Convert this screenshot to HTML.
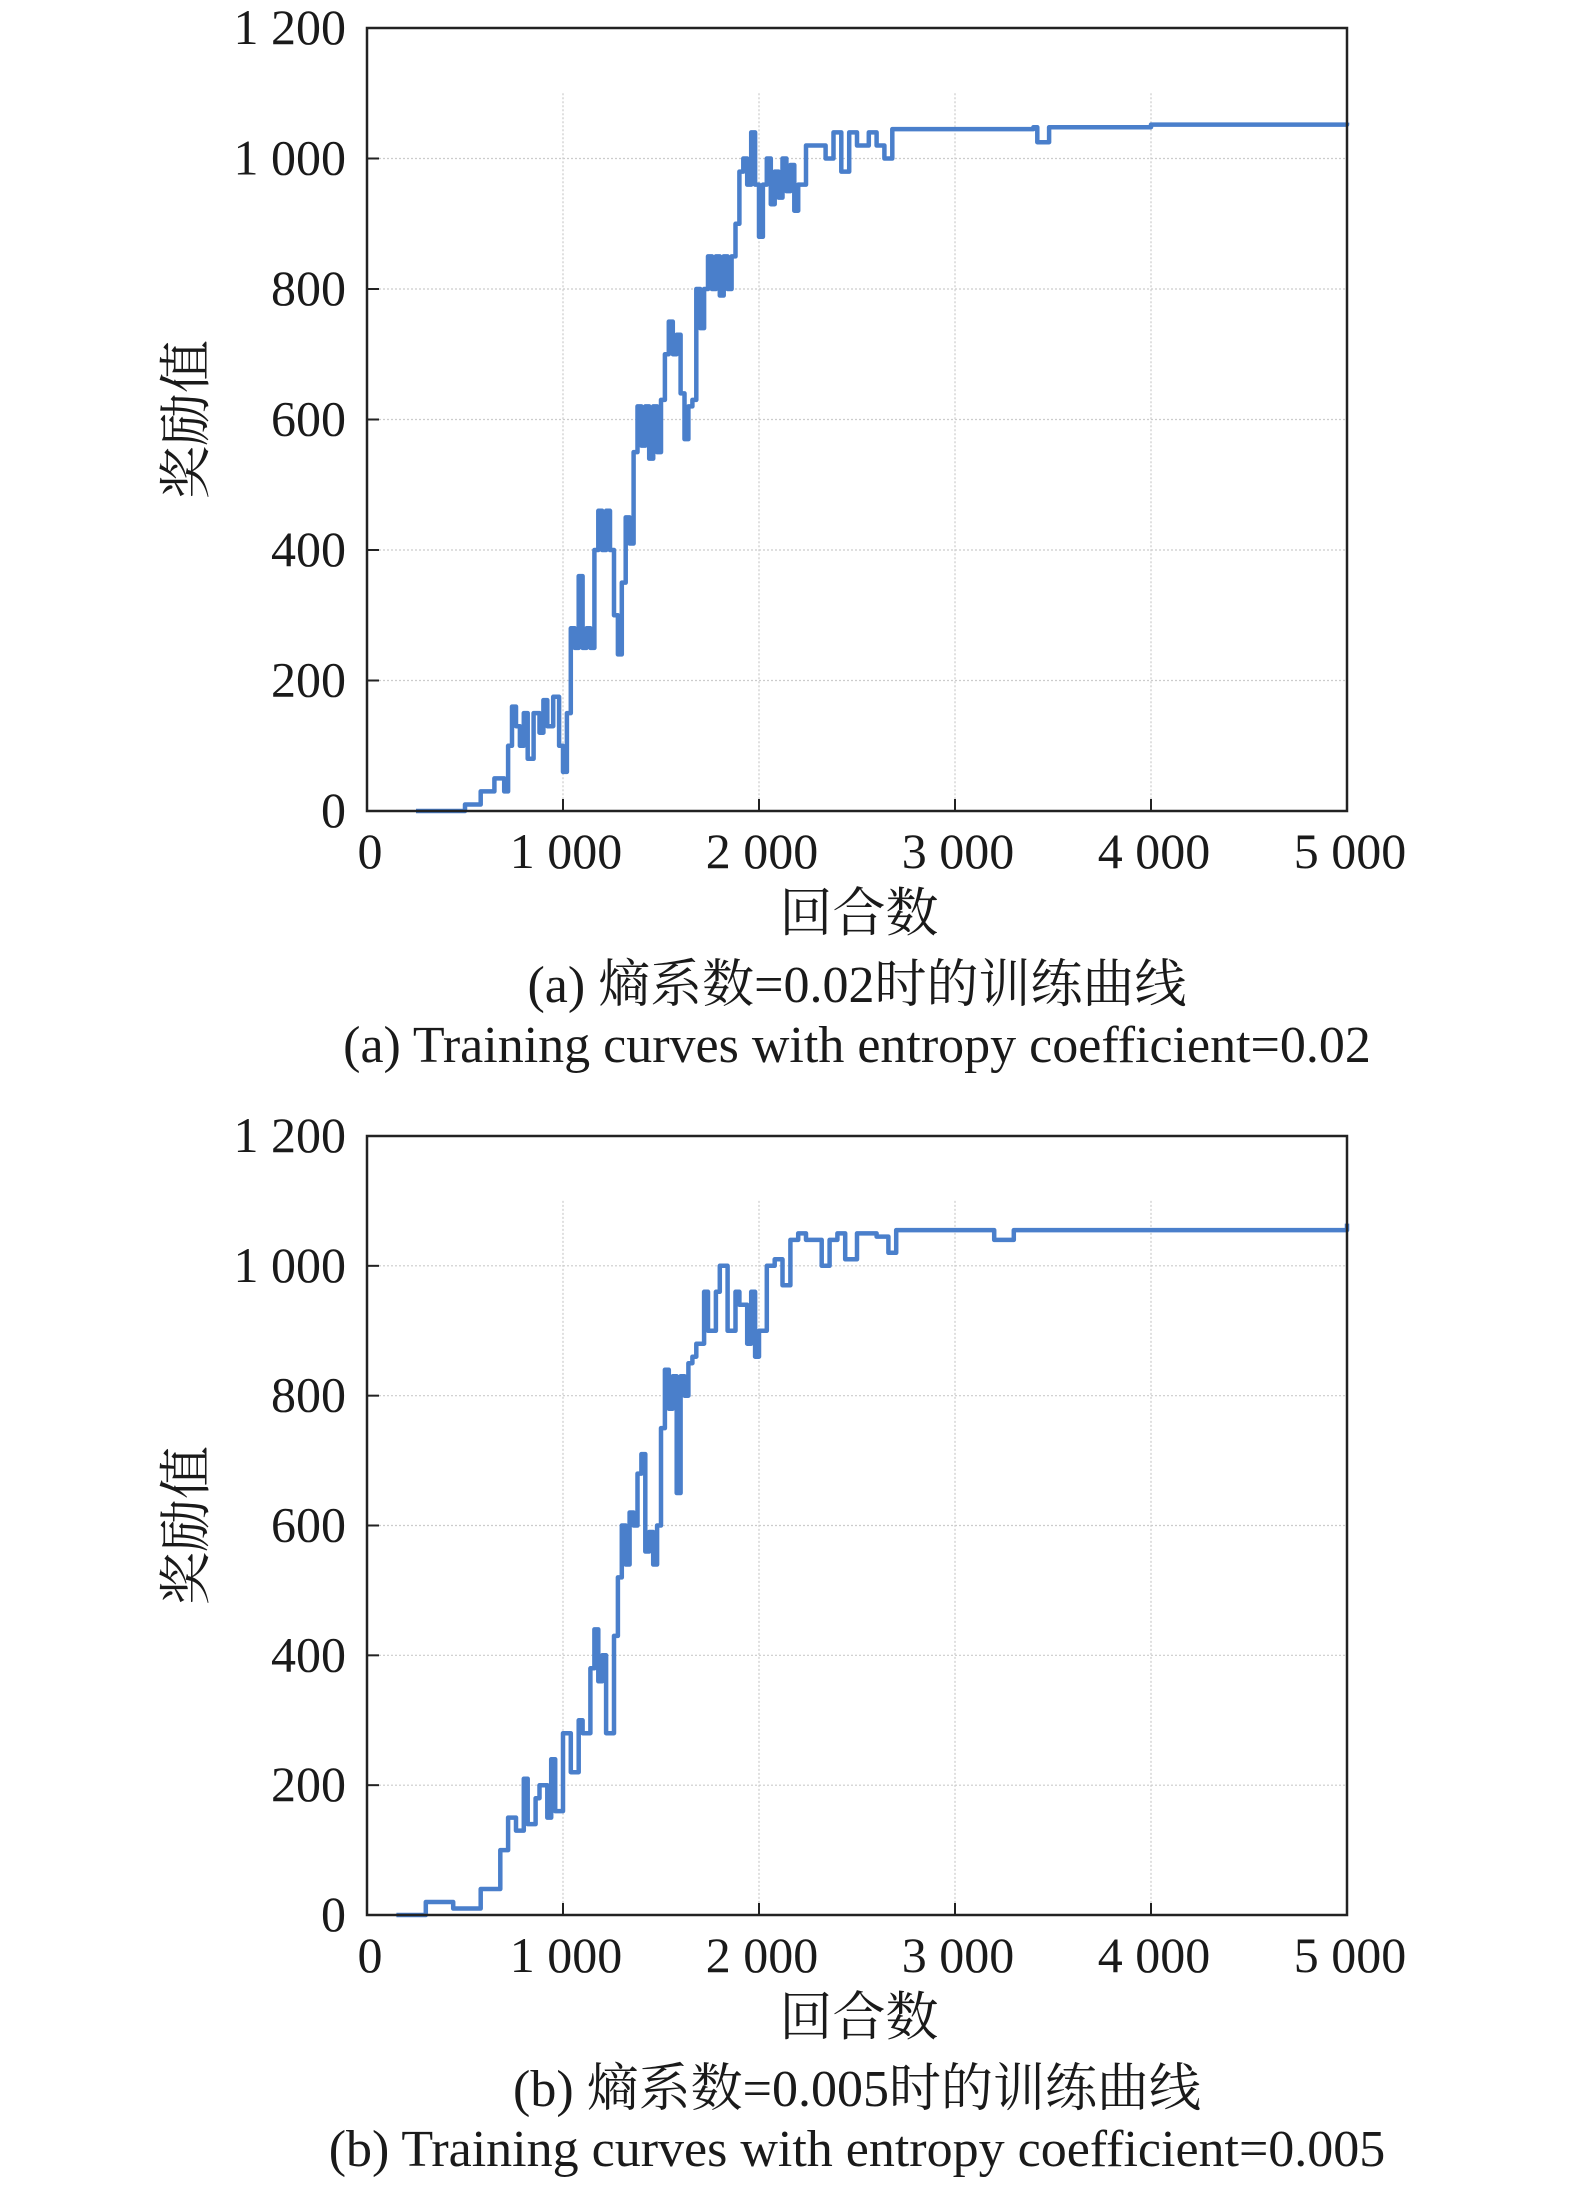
<!DOCTYPE html>
<html><head><meta charset="utf-8"><style>
body{margin:0;background:#fff;}
svg{display:block}
text{font-family:"Liberation Serif","Noto Serif CJK SC",serif;fill:#1a1a1a}
</style></head><body>
<svg id="s" width="1575" height="2191" viewBox="0 0 1575 2191" xmlns="http://www.w3.org/2000/svg"></svg>
<script>
const NS="http://www.w3.org/2000/svg";
const s=document.getElementById('s');
function el(t,a,txt){const e=document.createElementNS(NS,t);for(const k in a)e.setAttribute(k,a[k]);if(txt!==undefined)e.textContent=txt;s.appendChild(e);return e;}
const A=[[250,0],[500,10],[580,10],[580,30],[650,30],[650,50],[700,30],[720,100],[740,160],[760,130],[780,100],[800,150],[820,80],[850,150],[880,120],[900,170],[920,130],[950,175],[980,100],[1000,60],[1020,150],[1040,280],[1060,250],[1080,360],[1100,250],[1120,280],[1140,250],[1160,400],[1180,460],[1200,400],[1220,460],[1240,400],[1260,300],[1280,240],[1300,350],[1320,450],[1340,410],[1360,550],[1380,620],[1400,560],[1420,620],[1440,540],[1460,620],[1480,550],[1500,630],[1520,700],[1540,750],[1560,700],[1580,730],[1600,640],[1620,570],[1640,620],[1660,630],[1680,800],[1700,740],[1720,800],[1740,850],[1760,800],[1780,850],[1800,790],[1820,850],[1840,800],[1860,850],[1880,900],[1900,980],[1920,1000],[1940,960],[1960,1040],[1980,960],[2000,880],[2020,960],[2040,1000],[2060,930],[2080,980],[2100,940],[2120,1000],[2140,950],[2160,990],[2180,920],[2200,960],[2240,1020],[2300,1020],[2340,1000],[2380,1040],[2420,980],[2460,1040],[2500,1020],[2560,1040],[2600,1020],[2640,1000],[2680,1045],[3000,1045],[3400,1048],[3420,1025],[3480,1048],[4000,1052],[5000,1055]];
const B=[[150,0],[300,0],[300,20],[400,20],[440,10],[560,10],[580,40],[640,40],[680,100],[720,150],[760,130],[800,210],[820,140],[860,180],[880,200],[920,150],[940,240],[960,160],[1000,280],[1040,220],[1080,300],[1100,280],[1140,380],[1160,440],[1180,360],[1200,400],[1220,280],[1260,430],[1280,520],[1300,600],[1320,540],[1340,620],[1360,600],[1380,680],[1400,710],[1420,560],[1440,590],[1460,540],[1480,600],[1500,750],[1520,840],[1540,780],[1560,830],[1580,650],[1600,830],[1620,800],[1640,850],[1660,860],[1680,880],[1720,960],[1740,900],[1780,960],[1800,1000],[1840,900],[1880,960],[1900,940],[1940,880],[1960,960],[1980,860],[2000,900],[2040,1000],[2080,1010],[2120,970],[2160,1040],[2200,1050],[2240,1040],[2300,1040],[2320,1000],[2360,1040],[2400,1050],[2440,1010],[2500,1050],[2600,1045],[2660,1020],[2700,1055],[3000,1055],[3200,1040],[3300,1055],[5000,1065]];
function panel(top,bot,data,cap1,cap2){
  const L=367,R=1347,H=bot-top;
  const X=v=>L+v/5000*(R-L), Y=v=>bot-v/1200*H;
  for(let i=1;i<=5;i++){el('line',{x1:L,x2:R,y1:Y(i*200),y2:Y(i*200),stroke:'#ccc','stroke-width':1.2,'stroke-dasharray':'2,2'});}
  for(let i=1;i<=4;i++){el('line',{x1:X(i*1000),x2:X(i*1000),y1:Y(1100),y2:bot,stroke:'#ccc','stroke-width':1.2,'stroke-dasharray':'2,2'});
    el('line',{x1:X(i*1000),x2:X(i*1000),y1:bot,y2:bot-12,stroke:'#222','stroke-width':2});}
  for(let i=1;i<=5;i++) el('line',{x1:L,x2:L+12,y1:Y(i*200),y2:Y(i*200),stroke:'#222','stroke-width':2});
  let pts=[],pv=null;
  data.forEach(([x,v])=>{if(pv!==null)pts.push(X(x).toFixed(1)+','+Y(pv).toFixed(1));pts.push(X(x).toFixed(1)+','+Y(v).toFixed(1));pv=v;});
  el('polyline',{points:pts.join(' '),fill:'none',stroke:'#4a7fcb','stroke-width':4.5,'stroke-linejoin':'round'});
  el('rect',{x:L,y:top,width:R-L,height:H,fill:'none',stroke:'#222','stroke-width':2.5});
  const yl=['0','200','400','600','800','1 000','1 200'];
  yl.forEach((t,i)=>el('text',{x:346,y:Y(i*200)+16,'font-size':50,'text-anchor':'end'},t));
  const xl=['0','1 000','2 000','3 000','4 000','5 000'];
  xl.forEach((t,i)=>el('text',{x:X(i*1000)+3,y:bot+57,'font-size':50,'text-anchor':'middle'},t));
  el('text',{x:859,y:bot+120,'font-size':53,'text-anchor':'middle'},'回合数');
  const cy=(top+bot)/2;
  el('text',{x:0,y:0,'font-size':53,'text-anchor':'middle',transform:`translate(204,${cy}) rotate(-90)`},'奖励值');
  el('text',{x:857,y:bot+191,'font-size':52,'text-anchor':'middle'},cap1);
  el('text',{x:857,y:bot+251,'font-size':52,'text-anchor':'middle'},cap2);
}
panel(28,811,A,'(a) 熵系数=0.02时的训练曲线','(a) Training curves with entropy coefficient=0.02');
panel(1136,1915,B,'(b) 熵系数=0.005时的训练曲线','(b) Training curves with entropy coefficient=0.005');
</script>
</body></html>
